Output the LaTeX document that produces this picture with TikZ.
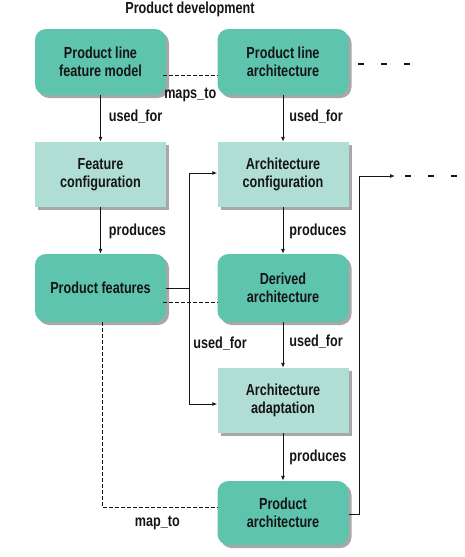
\documentclass[tikz,border=0pt]{standalone}
\usepackage{fontspec}
\setmainfont[FakeStretch=0.79]{Liberation Sans}
\usetikzlibrary{arrows.meta,shadows}
\definecolor{tealdark}{HTML}{5EC4AE}
\definecolor{teallight}{HTML}{B0DED4}
\definecolor{boxshadow}{HTML}{A8A8A8}
\definecolor{ink}{HTML}{151515}
\begin{document}
\begin{tikzpicture}%
	[x=1pt, y=-1pt,
	font=\fontsize{16}{18.5}\selectfont\bfseries,
	text=ink,
	artifact/.style={draw=none, fill=tealdark, rounded corners=11pt,
		minimum width=131pt, align=center, inner sep=0pt,
		drop shadow={shadow xshift=3pt, shadow yshift=-3pt, fill=boxshadow, opacity=1}},
	activity/.style={draw=none, fill=teallight,
		minimum width=131pt, align=center, inner sep=0pt,
		drop shadow={shadow xshift=3pt, shadow yshift=-3pt, fill=boxshadow, opacity=1}},
	link/.style={draw=ink, line width=0.9pt, -{Latex[length=5pt,width=4pt]}},
	trace/.style={draw=ink, line width=0.8pt, dash pattern=on 4pt off 2pt},
	more/.style={draw=ink, line width=2pt, dash pattern=on 6pt off 17pt},
	lbl/.style={inner sep=0pt}]
%
%% Bounding box of the page
\useasboundingbox (0,0) rectangle (465,557);
%
%% Title
\node[lbl] (title) at (190,9) {Product development};
%
%% Product line level
\node[artifact, minimum height=66pt] (plfm) at (100.5,62) {Product line\\feature model};
\node[artifact, minimum height=66pt] (pla)  at (283,62)   {Product line\\architecture};
%%
%% Configuration
\node[activity, minimum height=65pt] (fc) at (100.5,174.5) {Feature\\configuration};
\node[activity, minimum height=65pt] (ac) at (283,174.5)   {Architecture\\configuration};
%%
%% Derived products
\node[artifact, minimum height=68pt] (pf) at (100.5,288) {Product features};
\node[artifact, minimum height=68pt] (da) at (283,288)   {Derived\\architecture};
%%
%% Adaptation
\node[activity, minimum height=65pt] (aa) at (283,400.5) {Architecture\\adaptation};
\node[artifact, minimum height=64pt] (pa) at (283,513)   {Product\\architecture};
%
%% Free ends
\coordinate (fork) at (189,288);
\coordinate (nextstep) at (395,176);
%
%% Vertical connectors
\draw[link] (plfm.south) -- node[lbl, right=8pt, pos=0.47] {used\_for} (fc.north);
\draw[link] (pla.south)  -- node[lbl, right=6pt, pos=0.47] {used\_for} (ac.north);
\draw[link] (fc.south)   -- node[lbl, right=8pt, pos=0.51] {produces} (pf.north);
\draw[link] (ac.south)   -- node[lbl, right=6pt, pos=0.51] {produces} (da.north);
\draw[link] (da.south)   -- node[lbl, right=6pt, pos=0.42] {used\_for} (aa.north);
\draw[link] (aa.south)   -- node[lbl, right=6pt, pos=0.51] {produces} (pa.north);
%
%% Product features used for configuration and adaptation
\draw[draw=ink, line width=0.9pt] (pf.east) -- (fork);
\draw[link] (fork) |- ([yshift=1.5pt]ac.west);
\draw[link] (fork) |- node[lbl, pos=0.24, right=4pt] {used\_for} ([yshift=-3.5pt]aa.west);
%
%% Mappings
\draw[trace] ([xshift=-3pt,yshift=-13pt]plfm.east) -- node[lbl, below=13pt] {maps\_to} ([yshift=-13pt]pla.west);
\draw[trace] ([xshift=-3pt,yshift=-14pt]pf.east) -- ([yshift=-14pt]da.west);
\draw[trace] ([xshift=1.5pt]pf.south) |- node[lbl, pos=0.74, below=9pt] {map\_to} ([yshift=6pt]pa.west);
%
%% Continuation
\draw[link] ([yshift=-1pt]pa.east) -- ++(11,0) |- (nextstep);
\draw[more] (358,64) -- (410,64);
\draw[more] (405,176) -- (465,176);
%
\end{tikzpicture}
\end{document}
